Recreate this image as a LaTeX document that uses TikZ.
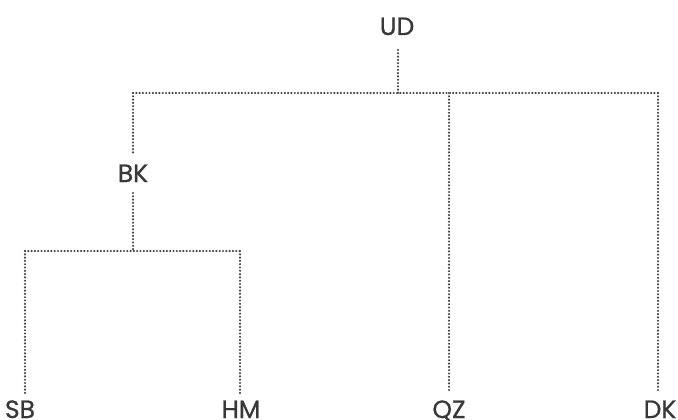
\documentclass[tikz,border=0pt]{standalone}
\usepackage{fontspec}
\setmainfont{Poppins}
\newfontfamily\lblfont{Poppins}[FakeBold=0.8]
\begin{document}
\begin{tikzpicture}[x=1pt,y=-1pt,
  lbl/.style={font=\lblfont\fontsize{25}{25}\selectfont, text=black!78, inner sep=0pt, outer sep=0pt, text height=18pt, text depth=0pt, anchor=base},
  dotline/.style={draw=black!72, line width=2.4pt, line cap=round, dash pattern=on 0pt off 3.3pt}]
\useasboundingbox (0,0) rectangle (678,420);
% labels
\node[lbl] (UD) at (397,35) {UD};
\node[lbl] (BK) at (133,182) {BK};
\node[lbl] (SB) at (20,418) {SB};
\node[lbl] (HM) at (241,418) {HM};
\node[lbl] (QZ) at (449,418) {QZ};
\node[lbl] (DK) at (660,418) {DK};
% junctions
\coordinate (jUD) at (398,93);
\coordinate (jL) at (133,93);
\coordinate (jQZ) at (449,93);
\coordinate (jR) at (658,93);
\coordinate (jBK) at (133,251);
\coordinate (jSB) at (25,251);
\coordinate (jHM) at (240,251);
% connectors
\draw[dotline, shorten <=15pt] (UD.south -| jUD) -- (jUD);
\draw[dotline] (jL) -- (jR);
\draw[dotline, shorten >=9pt] (jL) -- (jL |- BK.north);
\draw[dotline, shorten <=11pt] (jBK |- BK.south) -- (jBK);
\draw[dotline] (jSB) -- (jHM);
\draw[dotline, shorten >=7pt] (jSB) -- (jSB |- SB.north);
\draw[dotline, shorten >=7pt] (jHM) -- (jHM |- HM.north);
\draw[dotline, shorten >=7pt] (jQZ) -- (jQZ |- QZ.north);
\draw[dotline, shorten >=7pt] (jR) -- (jR |- DK.north);
\end{tikzpicture}
\end{document}
